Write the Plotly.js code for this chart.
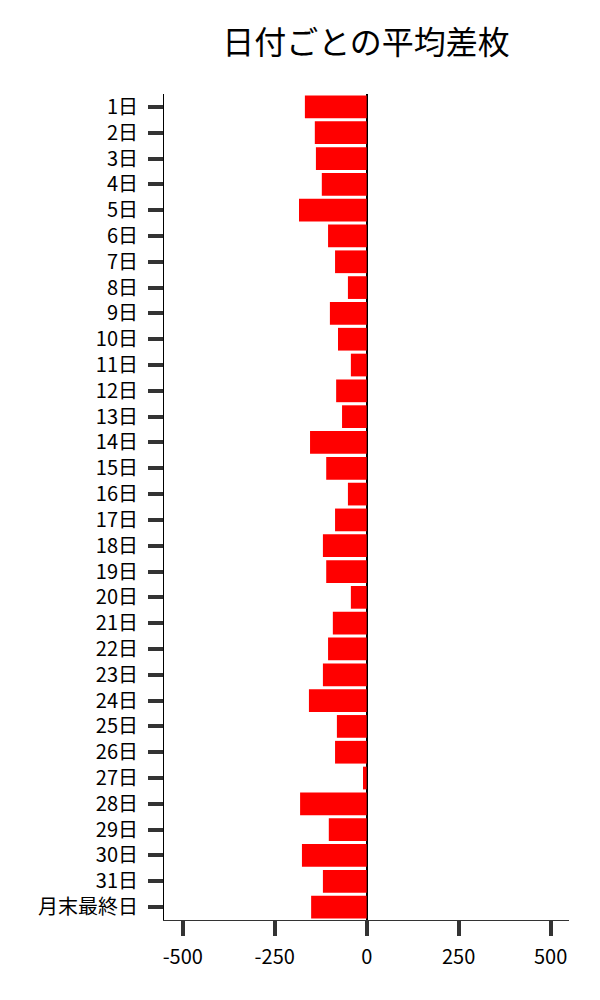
<!DOCTYPE html>
<html>
<head>
<meta charset="utf-8">
<script src="https://cdn.plot.ly/plotly-3.0.1.min.js"></script>
<style>
  body { margin: 0; background: #fff; }
  #chart { width: 600px; height: 1000px; }
</style>
</head>
<body>
<div id="chart"></div>
<script>
// categories (days of month)
const days = ['1日', '2日', '3日', '4日', '5日', '6日', '7日', '8日', '9日', '10日',
    '11日', '12日', '13日', '14日', '15日', '16日', '17日', '18日', '19日', '20日',
    '21日', '22日', '23日', '24日', '25日', '26日', '27日', '28日', '29日', '30日',
    '31日', '月末最終日'];

// average difference per day
const avgDiff = [-168, -141, -138, -122, -184, -105, -86, -51, -100, -78,
    -43, -83, -67, -154, -110, -51, -86, -119, -110, -43,
    -92, -105, -119, -157, -81, -86, -10, -181, -103, -176,
    -119, -151];

const xTicks = [-500, -250, 0, 250, 500];

const font = '"Noto Sans CJK JP", "Noto Sans", sans-serif';

let trace = {
    type: 'bar',
    orientation: 'h',
    x: avgDiff,
    y: days,
    marker: { color: '#ff0000' },
    hoverinfo: 'x+y'
};

let layout = {
    width: 600,
    height: 1000,
    margin: { l: 164, r: 31, t: 94, b: 80 },
    paper_bgcolor: '#ffffff',
    plot_bgcolor: '#ffffff',
    font: { family: font, size: 20, color: '#000000' },
    title: {
        text: '日付ごとの平均差枚',
        font: { family: font, size: 32, color: '#000000' },
        x: 0.61,
        xanchor: 'center',
        y: 0.957,
        yanchor: 'middle'
    },
    bargap: 0.12,
    showlegend: false,
    xaxis: {
        range: [-551, 550],
        tickvals: xTicks,
        ticktext: xTicks.map(String),
        showgrid: false,
        zeroline: true,
        zerolinecolor: '#000000',
        zerolinewidth: 2,
        showline: true,
        linecolor: '#333333',
        linewidth: 1,
        ticks: 'outside',
        ticklen: 15,
        tickwidth: 4,
        tickcolor: '#333333',
        ticklabelstandoff: 4,
        tickfont: { family: font, size: 20, color: '#000000' }
    },
    yaxis: {
        type: 'category',
        autorange: 'reversed',
        showgrid: false,
        zeroline: false,
        showline: true,
        linecolor: '#000000',
        linewidth: 1,
        ticks: 'outside',
        ticklen: 15,
        tickwidth: 4,
        tickcolor: '#333333',
        ticklabelstandoff: 6,
        tickfont: { family: font, size: 20, color: '#000000' }
    }
};

Plotly.newPlot('chart', [trace], layout, { displayModeBar: false, staticPlot: true });
</script>
</body>
</html>
